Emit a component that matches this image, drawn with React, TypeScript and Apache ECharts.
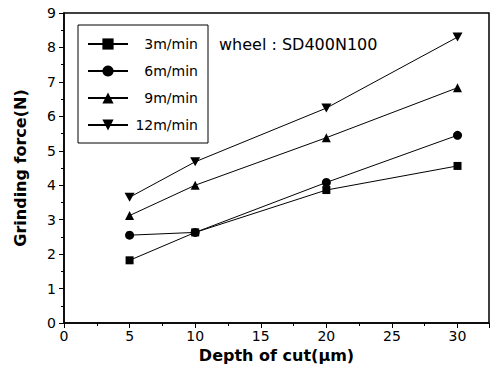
import React, { useEffect, useRef } from "react";
import * as echarts from "echarts";

const depths = [5, 10, 20, 30];
const seriesNames = ["3m/min", "6m/min", "9m/min", "12m/min"];
const v3 = [1.82, 2.63, 3.86, 4.56];
const v6 = [2.55, 2.63, 4.08, 5.45];
const v9 = [3.12, 4.0, 5.38, 6.83];
const v12 = [3.65, 4.68, 6.24, 8.3];
const symbols = ["rect", "circle", "triangle", "path://M0,0 L10,0 L5,9 Z"];

const FONT = "DejaVu Sans, Arial, sans-serif";

export default function App() {
  const ref = useRef<HTMLDivElement>(null);
  useEffect(() => {
    const chart = echarts.init(ref.current!, null, { renderer: "svg" });
    const all = [v3, v6, v9, v12];
    chart.setOption({
      animation: false,
      backgroundColor: "#fff",
      textStyle: { fontFamily: FONT },
      grid: { left: 64, right: 10, top: 13, bottom: 47, show: true, borderColor: "#000", borderWidth: 1.5 },
      legend: {
        orient: "vertical",
        left: 78,
        top: 25,
        itemWidth: 40,
        itemHeight: 14,
        itemGap: 13,
        padding: [12, 10, 11, 9],
        borderColor: "#000",
        borderWidth: 1,
        data: seriesNames,
        formatter: (n: string) => "{a|" + n + "}",
        textStyle: {
          color: "#000",
          fontSize: 14,
          fontFamily: FONT,
          rich: { a: { width: 65, align: "right", fontSize: 14, color: "#000", fontFamily: FONT } },
        },
      },
      graphic: [
        {
          type: "text",
          left: 219,
          top: 36,
          style: { text: "wheel : SD400N100", font: "16px DejaVu Sans, Arial, sans-serif", fill: "#000" },
        },
      ],
      xAxis: {
        type: "value",
        min: 0,
        max: 32.4,
        interval: 5,
        name: "Depth of cut(μm)",
        nameLocation: "middle",
        nameGap: 22,
        nameTextStyle: { fontWeight: "bold", fontSize: 16, color: "#000", fontFamily: FONT },
        axisLine: { lineStyle: { color: "#000", width: 1.5 } },
        axisTick: { lineStyle: { color: "#000" }, length: 5 },
        minorTick: { show: true, splitNumber: 2, length: 3, lineStyle: { color: "#000" } },
        splitLine: { show: false },
        axisLabel: {
          color: "#000",
          fontSize: 14,
          fontFamily: FONT,
          margin: 6,
          formatter: (v: number) => (v % 5 === 0 && v <= 30 ? String(v) : ""),
        },
      },
      yAxis: {
        type: "value",
        min: 0,
        max: 9,
        interval: 1,
        name: "Grinding force(N)",
        nameLocation: "middle",
        nameGap: 36,
        nameTextStyle: { fontWeight: "bold", fontSize: 16, color: "#000", fontFamily: FONT },
        axisLine: { lineStyle: { color: "#000", width: 1.5 } },
        axisTick: { lineStyle: { color: "#000" }, length: 5 },
        minorTick: { show: true, splitNumber: 2, length: 3, lineStyle: { color: "#000" } },
        splitLine: { show: false },
        axisLabel: { color: "#000", fontSize: 14, fontFamily: FONT, margin: 8 },
      },
      series: seriesNames.map((n, i) => ({
        name: n,
        type: "line",
        data: depths.map((d, j) => [d, all[i][j]]),
        symbol: symbols[i],
        symbolSize: i === 0 ? 8 : i === 3 ? [10, 9] : 9,
        itemStyle: { color: "#000" },
        lineStyle: { color: "#000", width: 1 },
      })),
    });
    return () => chart.dispose();
  }, []);
  return <div ref={ref} style={{ width: 499, height: 370, position: "absolute", left: 0, top: 0 }} />;
}
